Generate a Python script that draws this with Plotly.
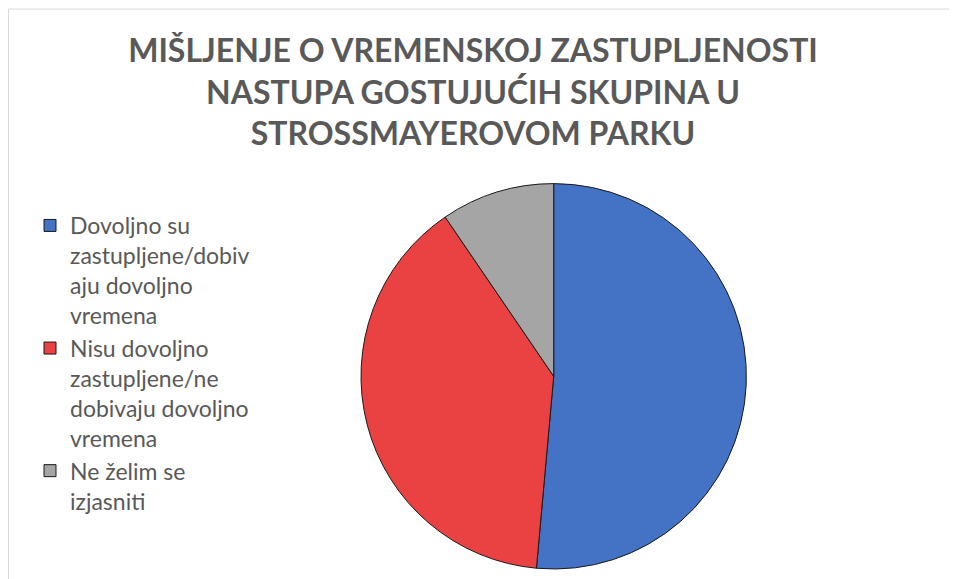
import plotly.graph_objects as go

title_lines = ["MIŠLJENJE O VREMENSKOJ ZASTUPLJENOSTI",
               "NASTUPA GOSTUJUĆIH SKUPINA U",
               "STROSSMAYEROVOM PARKU"]
categories = ["Dovoljno su<br>zastupljene/dobiv<br>aju dovoljno<br>vremena",
              "Nisu dovoljno<br>zastupljene/ne<br>dobivaju dovoljno<br>vremena",
              "Ne želim se<br>izjasniti"]
values = [54, 41, 10]
colors = ["#4472C4", "#EA4243", "#A5A5A5"]

W, H = 957, 579
# the page places the figure 8px in from the top-left corner
cx, cy, r = 545.7, 368.3, 192.7

fig = go.Figure(go.Pie(
    labels=categories,
    values=values,
    sort=False,
    direction="clockwise",
    rotation=0,
    textinfo="none",
    hoverinfo="label+percent",
    marker=dict(colors=colors, line=dict(color="#1a1a1a", width=1)),
    domain=dict(x=[(cx - r) / W, (cx + r) / W],
                y=[(H - cy - r) / H, (H - cy + r) / H]),
))

fig.update_layout(
    width=W, height=H,
    margin=dict(l=0, r=0, t=0, b=0),
    paper_bgcolor="white",
    plot_bgcolor="white",
    title=dict(text="<br>".join(title_lines),
               font=dict(family="Lato", size=32, color="#595959", weight="bold"),
               x=465 / W, xanchor="center", y=1 - 54 / H, yanchor="top"),
    legend=dict(x=22 / W, y=1 - 196 / H, xanchor="left", yanchor="top",
                valign="top",
                font=dict(family="Lato", size=23, color="#595959"),
                bgcolor="rgba(0,0,0,0)", traceorder="normal"),
    shapes=[dict(type="rect", xref="paper", yref="paper",
                 x0=0.5 / W, x1=1.05, y0=-0.05, y1=1 - 1 / H,
                 line=dict(color="#D9D9D9", width=1), layer="below")],
)

fig.write_html("out.html")
